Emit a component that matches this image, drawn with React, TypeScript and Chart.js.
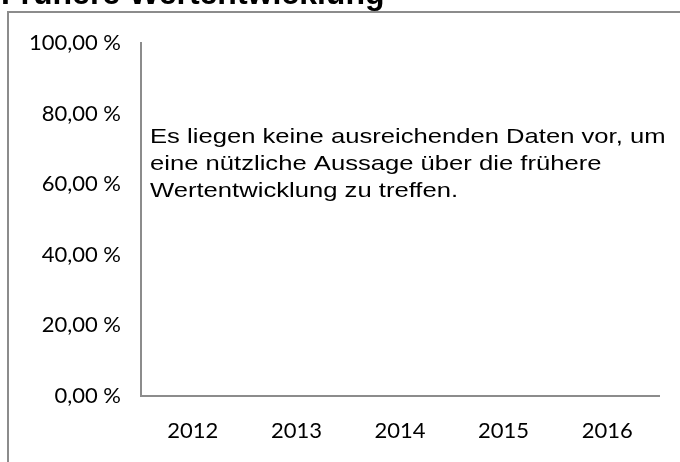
import { useEffect, useRef } from "react";
import { Chart, registerables } from "chart.js";

Chart.register(...registerables);

const years = ["2012", "2013", "2014", "2015", "2016"];
const performance: (number | null)[] = [null, null, null, null, null];
const yTickValues = [0, 20, 40, 60, 80, 100];
const chartTitle = "Frühere Wertentwicklung";
const noDataLines = [
  "Es liegen keine ausreichenden Daten vor, um",
  "eine nützliche Aussage über die frühere",
  "Wertentwicklung zu treffen.",
];

const AXIS_GRAY = "#8c8c8c";

export default function App() {
  const ref = useRef<HTMLCanvasElement>(null);

  useEffect(() => {
    if (!ref.current) return;
    const decor = {
      id: "decor",
      beforeDraw(chart: any) {
        const ctx = chart.ctx;
        ctx.save();
        ctx.fillStyle = "#ffffff";
        ctx.fillRect(0, 0, chart.width, chart.height);
        ctx.strokeStyle = AXIS_GRAY;
        ctx.lineWidth = 2;
        ctx.strokeRect(8, 12, chart.width + 40, chart.height + 40);
        ctx.fillStyle = "#000";
        ctx.font = "bold 32px 'Liberation Sans', Arial, sans-serif";
        ctx.textBaseline = "alphabetic";
        ctx.textAlign = "left";
        ctx.fillText(chartTitle, 1, 4);
        ctx.restore();
      },
      afterDraw(chart: any) {
        const { ctx, chartArea } = chart;
        ctx.save();
        ctx.fillStyle = "#000";
        ctx.font = "21px 'Liberation Sans', Arial, sans-serif";
        ctx.textBaseline = "alphabetic";
        ctx.textAlign = "left";
        const x0 = chartArea.left + 9;
        ctx.translate(x0, 0);
        ctx.scale(1.22, 1);
        noDataLines.forEach((line, i) => {
          ctx.fillText(line, 0, chartArea.top + 100 + i * 27);
        });
        ctx.restore();
      },
    };

    const chart = new Chart(ref.current, {
      type: "bar",
      data: {
        labels: years,
        datasets: [{ label: "Wertentwicklung", data: performance, backgroundColor: "#1f4e79" }],
      },
      options: {
        responsive: false,
        animation: false,
        layout: { padding: { left: 0, right: 21, top: 43, bottom: 0 } },
        plugins: { legend: { display: false }, tooltip: { enabled: false }, title: { display: false } },
        scales: {
          x: {
            type: "category",
            offset: true,
            grid: { display: false, drawTicks: false },
            border: { display: true, color: AXIS_GRAY, width: 2 },
            ticks: { color: "#000", padding: 22, font: { family: "Lato", size: 22 } },
            afterFit: (s: any) => { s.height = 66; },
          },
          y: {
            min: 0,
            max: 100,
            afterBuildTicks: (s: any) => { s.ticks = yTickValues.map((v) => ({ value: v })); },
            grid: { display: false, drawTicks: false },
            border: { display: true, color: AXIS_GRAY, width: 2 },
            ticks: {
              color: "#000",
              padding: 20,
              font: { family: "Lato", size: 22 },
              callback: (v: any) => Number(v).toFixed(2).replace(".", ",") + " %",
            },
            afterFit: (s: any) => { s.width = 141; },
          },
        },
      },
      plugins: [decor],
    });
    return () => chart.destroy();
  }, []);

  return (
    <div style={{ position: "fixed", left: 0, top: 0, width: 680, height: 462, background: "#fff", overflow: "hidden" }}>
      <canvas ref={ref} width={680} height={462} style={{ display: "block", width: 680, height: 462 }} />
    </div>
  );
}
